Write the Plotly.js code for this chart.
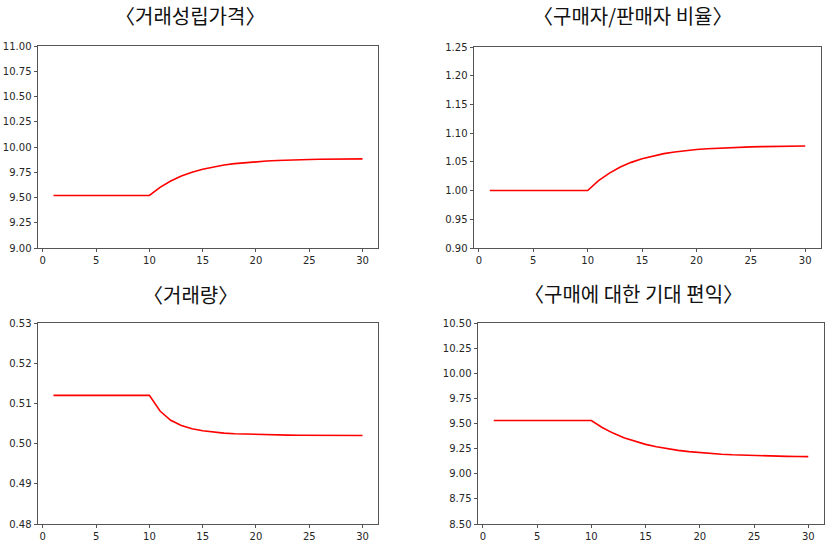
<!DOCTYPE html>
<html><head><meta charset="utf-8">
<script src="https://cdn.plot.ly/plotly-3.0.1.min.js"></script>
<style>html,body{margin:0;padding:0;background:#fff}#c{width:827px;height:545px}</style>
</head><body><div id="c"></div>
<script>
const periods = [1,2,3,4,5,6,7,8,9,10,11,12,13,14,15,16,17,18,19,20,21,22,23,24,25,26,27,28,29,30];
const price = [9.52,9.52,9.52,9.52,9.52,9.52,9.52,9.52,9.52,9.52,9.600,9.663,9.712,9.750,9.780,9.803,9.821,9.835,9.846,9.855,9.861,9.866,9.871,9.874,9.876,9.878,9.880,9.881,9.882,9.882];
const ratio = [1,1,1,1,1,1,1,1,1,1,1.0172,1.0305,1.0410,1.0491,1.0555,1.0604,1.0643,1.0673,1.0697,1.0715,1.0729,1.0740,1.0749,1.0756,1.0761,1.0765,1.0769,1.0771,1.0773,1.0775];
const volume = [0.512,0.512,0.512,0.512,0.512,0.512,0.512,0.512,0.512,0.512,0.5081,0.5058,0.5045,0.5037,0.5032,0.50285,0.5026,0.50245,0.50235,0.50227,0.50221,0.50216,0.50212,0.50209,0.50206,0.50204,0.50202,0.50201,0.5020,0.5020];
const benefit = [9.53,9.53,9.53,9.53,9.53,9.53,9.53,9.53,9.53,9.53,9.4607,9.4045,9.359,9.3221,9.2923,9.2681,9.2485,9.2326,9.2198,9.2094,9.2010,9.1941,9.1886,9.1841,9.1805,9.1775,9.1751,9.1732,9.1717,9.1704];
const titles = ['〈거래성립가격〉','〈구매자/판매자 비율〉','〈거래량〉','〈구매에 대한 기대 편익〉'];
const yRanges = [[9,11],[0.9,1.25],[0.48,0.53],[8.5,10.5]];
const yDticks = [0.25,0.05,0.01,0.25];
const series = [price, ratio, volume, benefit];

const W=827, H=545;
const boxes = [ // left, right, top, bottom in px
  [38,378,46,248],[474,821,47,248],[38,378,323,524],[478,824,323,524]];
const titlePos = [[190,15],[633,15],[190,294],[633,293]];

const traces=[]; const layout={width:W,height:H,margin:{l:0,r:0,t:0,b:0},showlegend:false,
  paper_bgcolor:'#fff',plot_bgcolor:'#fff',annotations:[]};
const tickfont={family:'DejaVu Sans',size:10,color:'#262626'};
for(let i=0;i<4;i++){
  const n=i+1, sx=n===1?'':n;
  traces.push({x:periods,y:series[i],type:'scatter',mode:'lines',line:{color:'#ff0000',width:1.6},
    xaxis:'x'+sx,yaxis:'y'+sx,hoverinfo:'skip'});
  const b=boxes[i];
  const ax={domain:[b[0]/W,b[1]/W],range:[-0.45,31.45],dtick:5,tick0:0,showgrid:false,zeroline:false,
    showline:true,mirror:true,linecolor:'#555',linewidth:1,ticks:'outside',ticklen:3,tickcolor:'#555',
    tickfont:tickfont,anchor:'y'+sx};
  const ay={domain:[1-b[3]/H,1-b[2]/H],range:yRanges[i],dtick:yDticks[i],tick0:0,tickformat:'.2f',
    showgrid:false,zeroline:false,showline:true,mirror:true,linecolor:'#555',linewidth:1,ticks:'outside',
    ticklen:3.5,tickcolor:'#555',tickfont:tickfont,anchor:'x'+sx};
  layout['xaxis'+sx]=ax; layout['yaxis'+sx]=ay;
  layout.annotations.push({text:titles[i],x:titlePos[i][0]/W,y:1-titlePos[i][1]/H,xref:'paper',yref:'paper',
    xanchor:'center',yanchor:'middle',borderpad:0,showarrow:false,font:{family:'Noto Sans CJK KR',size:20,color:'#111'}});
}
Plotly.newPlot('c',traces,layout,{staticPlot:true});
</script></body></html>
